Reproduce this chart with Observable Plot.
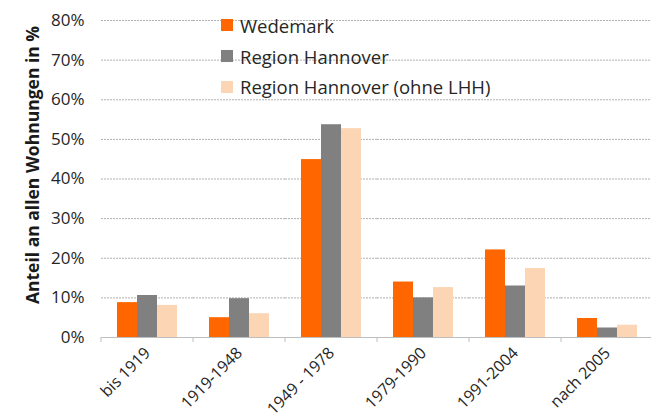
<!DOCTYPE html>
<html><head><meta charset="utf-8">
<script src="https://cdn.jsdelivr.net/npm/d3@7"></script>
<script src="https://cdn.jsdelivr.net/npm/@observablehq/plot@0.6"></script>
<style>
body{margin:0;background:#fff;}
#wrap{position:relative;width:651px;height:419px;font-family:"Open Sans",sans-serif;overflow:hidden;}
#legend{position:absolute;left:221px;top:10px;font-size:18.5px;color:#262626;}
#legend .row{display:flex;align-items:center;height:30.8px;white-space:nowrap;}
#legend .sw{width:12px;height:12px;margin-right:7px;flex:none;}
#ytitle{position:absolute;left:32px;top:165px;transform:translate(-50%,-50%) rotate(-90deg);white-space:nowrap;font-weight:700;font-size:17.5px;color:#1a1a1a;}
</style>
</head><body>
<div id="wrap"></div>
<script>
const categories = ["bis 1919", "1919-1948", "1949 - 1978", "1979-1990", "1991-2004", "nach 2005"];
const seriesNames = ["Wedemark", "Region Hannover", "Region Hannover (ohne LHH)"];
const wedemark = [8.8, 5.0, 44.9, 14.0, 22.1, 4.8];
const regionHannover = [10.6, 9.8, 53.7, 10.0, 13.0, 2.4];
const regionOhneLHH = [8.1, 6.0, 52.7, 12.6, 17.4, 3.1];
const seriesColors = ["#ff6600", "#808080", "#fcd5b5"];
const yTicks = [0, 10, 20, 30, 40, 50, 60, 70, 80];
const yTitle = "Anteil an allen Wohnungen in %";

const seriesValues = [wedemark, regionHannover, regionOhneLHH];
const data = [];
categories.forEach((c, i) => seriesNames.forEach((s, j) => data.push({cat: c, series: s, value: seriesValues[j][i]})));

const chart = Plot.plot({
  width: 651, height: 419,
  marginLeft: 99, marginRight: -3, marginTop: 20, marginBottom: 82,
  style: {fontFamily: "'Open Sans', sans-serif", fontSize: "17px", color: "#262626", background: "#fff"},
  fx: {domain: categories, padding: 0, label: null},
  x: {domain: seriesNames, paddingInner: 0, paddingOuter: 0.75, axis: null},
  y: {domain: [0, 80], label: null},
  color: {domain: seriesNames, range: seriesColors},
  marks: [
    Plot.gridY(yTicks.slice(1), {stroke: "#b0b0b0", strokeOpacity: 1, strokeDasharray: "2,1"}),
    Plot.axisY(yTicks, {tickSize: 0, tickPadding: 17, tickFormat: d => d + "%", label: null, fontSize: 17}),
    Plot.axisFx({anchor: "bottom", tickSize: 0, tickRotate: -45, tickPadding: 13, label: null, fontSize: 16}),
    Plot.barY(data, {fx: "cat", x: "series", y: "value", fill: "series"}),
    Plot.ruleY([0], {stroke: "#bfbfbf"})
  ]
});
document.getElementById("wrap").appendChild(chart);

// band boundary tick marks below the baseline
const fx = chart.scale("fx");
const starts = categories.map(c => fx.apply(c));
const bounds = [...starts, starts[starts.length - 1] + fx.bandwidth];
const y0 = chart.scale("y").apply(0);
d3.select(chart).append("g").selectAll("line").data(bounds).join("line")
  .attr("x1", d => d).attr("x2", d => d).attr("y1", y0).attr("y2", y0 + 5)
  .attr("stroke", "#bfbfbf");

// legend
const legend = d3.select("#wrap").append("div").attr("id", "legend");
const rows = legend.selectAll(".row").data(seriesNames).join("div").attr("class", "row");
rows.append("div").attr("class", "sw").style("background", (d, i) => seriesColors[i]);
rows.append("span").text(d => d);

d3.select("#wrap").append("div").attr("id", "ytitle").text(yTitle);
</script>
</body></html>
